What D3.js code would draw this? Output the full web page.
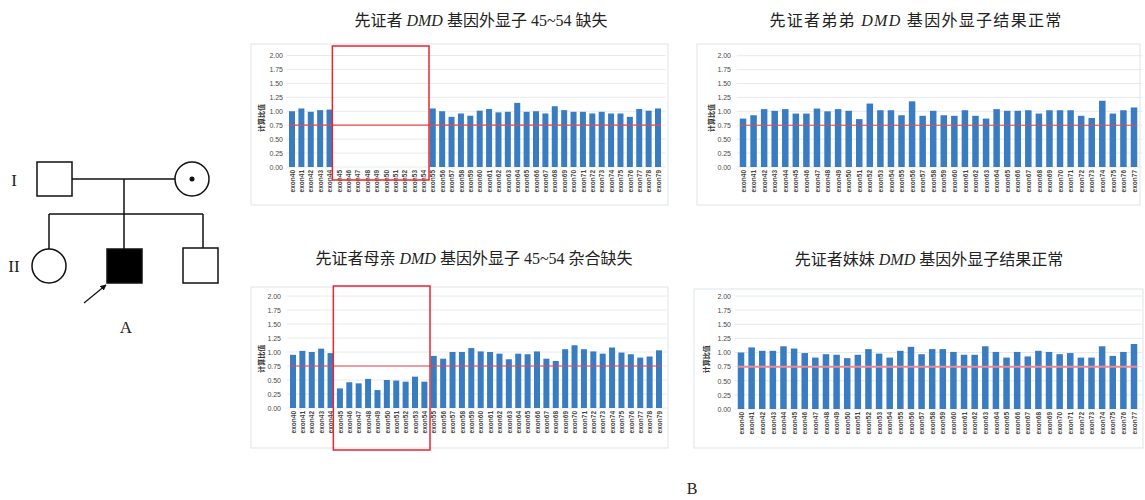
<!DOCTYPE html>
<html><head><meta charset="utf-8">
<script src="https://cdn.jsdelivr.net/npm/d3@7"></script>
<style>
body{margin:0;background:#fff;}
svg{display:block;}
</style></head>
<body><svg id="fig" width="1145" height="500"></svg>
<script>
// ---------- DATA ----------
const exonsLeft = ["exon40","exon41","exon42","exon43","exon44","exon45","exon46","exon47","exon48","exon49",
  "exon50","exon51","exon52","exon53","exon54","exon55","exon56","exon57","exon58","exon59",
  "exon60","exon61","exon62","exon63","exon64","exon65","exon66","exon67","exon68","exon69",
  "exon70","exon71","exon72","exon73","exon74","exon75","exon76","exon77","exon78","exon79"];
const exonsRight = ["exon40","exon41","exon42","exon43","exon44","exon45","exon46","exon47","exon48","exon49",
  "exon50","exon51","exon52","exon53","exon54","exon55","exon56","exon57","exon58","exon59",
  "exon60","exon61","exon62","exon63","exon64","exon65","exon66","exon67","exon68","exon69",
  "exon70","exon71","exon72","exon73","exon74","exon75","exon76","exon77"];
const probandValues = [1.00,1.05,0.99,1.02,1.03, 0,0,0,0,0,0,0,0,0,0,
  1.05,1.00,0.90,0.96,0.92,1.01,1.04,0.98,0.99,1.15,0.99,1.00,0.96,1.09,1.02,0.99,0.99,0.96,0.99,0.96,0.96,0.90,1.04,1.01,1.05];
const motherValues = [0.95,1.02,1.00,1.06,0.98, 0.35,0.46,0.44,0.52,0.32,0.50,0.49,0.47,0.56,0.47,
  0.93,0.88,1.00,1.00,1.07,1.01,1.00,0.97,0.87,0.97,0.96,1.01,0.88,0.84,1.05,1.12,1.05,1.01,0.97,1.08,0.99,0.96,0.90,0.92,1.03];
const brotherValues = [0.87,0.93,1.04,1.01,1.04,0.96,0.96,1.05,1.00,1.04,1.01,0.86,1.14,1.02,1.02,0.93,1.18,
  0.92,1.01,0.93,0.92,1.02,0.92,0.87,1.04,1.01,1.01,1.02,0.96,1.02,1.02,1.02,0.92,0.88,1.19,0.96,1.02,1.07];
const sisterValues = [1.00,1.09,1.03,1.03,1.11,1.07,0.99,0.91,0.97,0.96,0.90,0.96,1.06,0.98,0.91,1.03,1.10,
  0.97,1.06,1.06,1.01,0.96,0.96,1.11,1.01,0.91,1.01,0.93,1.03,1.01,0.97,0.99,0.91,0.91,1.11,0.94,1.01,1.15];
const yTicks = [0,0.25,0.5,0.75,1.0,1.25,1.5,1.75,2.0];
const threshold = 0.75;
const yTitle = "计算比值";
const deletedRange = ["exon45","exon54"];

// ---------- DRAW ----------
const svg = d3.select("#fig");
const serif = "'Liberation Serif','Noto Sans CJK SC',serif";
const sans = "'Liberation Sans',Arial,sans-serif";

function title(x, y, pre, post, ls){
  const t = svg.append("text").attr("x",x).attr("y",y).attr("text-anchor","middle")
    .attr("font-family",serif).attr("font-size",16).attr("fill","#222")
    .attr("letter-spacing", ls || 0);
  t.append("tspan").text(pre+" ");
  t.append("tspan").attr("font-style","italic").text("DMD");
  t.append("tspan").text(" "+post);
}

function panel(cfg){
  const g = svg.append("g");
  g.append("rect").attr("x",cfg.box[0]).attr("y",cfg.box[1]).attr("width",cfg.box[2]-cfg.box[0]).attr("height",cfg.box[3]-cfg.box[1])
    .attr("fill","none").attr("stroke","#dfe5ea").attr("stroke-width",1);
  const x = d3.scalePoint().domain(cfg.labels).range([cfg.x0,cfg.x1]);
  const y = d3.scaleLinear().domain([0,2]).range([cfg.y0,cfg.y2]);
  const step = x.step();
  g.selectAll("line.grid").data(yTicks).join("line")
    .attr("x1",cfg.x0-step*0.6).attr("x2",cfg.x1+step*0.8)
    .attr("y1",d=>y(d)).attr("y2",d=>y(d)).attr("stroke","#e6eaee").attr("stroke-width",1);
  const ya = d3.axisLeft(y).tickValues(yTicks).tickFormat(d3.format(".2f")).tickSize(0).tickPadding(0);
  const yg = g.append("g").attr("transform",`translate(${cfg.tickX},0)`).call(ya);
  yg.select(".domain").remove();
  yg.selectAll("text").attr("font-family",sans).attr("font-size",7).attr("fill","#4a4a4a");
  g.append("text").attr("transform",`translate(${cfg.titleX},${y(0.88)}) rotate(-90)`)
    .attr("text-anchor","middle").attr("font-family","'Noto Sans CJK SC',sans-serif").attr("font-weight","bold")
    .attr("font-size",7).attr("fill","#333").text(yTitle);
  const bw = cfg.bw;
  g.selectAll("rect.bar").data(cfg.labels.map((l,i)=>({l,v:cfg.values[i]}))).join("rect")
    .attr("x",d=>x(d.l)-bw/2).attr("width",bw)
    .attr("y",d=>y(d.v)).attr("height",d=>y(0)-y(d.v))
    .attr("fill","#3a7cc2");
  const xa = d3.axisBottom(x).tickSize(0).tickPadding(0);
  const xg = g.append("g").attr("transform",`translate(0,${cfg.y0+3})`).call(xa);
  xg.select(".domain").remove();
  xg.selectAll("text").attr("transform","rotate(-90)").attr("text-anchor","end")
    .attr("x",0).attr("y",0).attr("dx",0).attr("dy","0.33em")
    .attr("font-family",sans).attr("font-weight","bold").attr("font-size",6.5).attr("fill","#444");
  g.append("line").attr("x1",cfg.x0-3).attr("x2",cfg.x1+3).attr("y1",y(threshold)).attr("y2",y(threshold))
    .attr("stroke",cfg.lineColor).attr("stroke-width",cfg.lineW);
  if (cfg.delBox){
    const l = x(deletedRange[0]) - step*0.7, r = x(deletedRange[1]) + step*0.6;
    g.append("rect").attr("x",l).attr("y",cfg.delBox[0]).attr("width",r-l).attr("height",cfg.delBox[1]-cfg.delBox[0])
      .attr("fill","none").attr("stroke","#e8262d").attr("stroke-width",1.5);
  }
}

title(481, 26, "先证者", "基因外显子 45~54 缺失");
title(916, 26, "先证者弟弟", "基因外显子结果正常", 1.3);
title(474, 264, "先证者母亲", "基因外显子 45~54 杂合缺失");
title(929, 265, "先证者妹妹", "基因外显子结果正常");

panel({labels:exonsLeft, values:probandValues, box:[251,44,668,205], x0:292, x1:658, y0:167, y2:55.5, tickX:283, titleX:264, bw:6, lineColor:"#e8474c", lineW:1.2, delBox:[46,180]});
panel({labels:exonsRight, values:brotherValues, box:[697,44,1140,205], x0:743, x1:1134, y0:167, y2:55.7, tickX:731, titleX:714, bw:6.5, lineColor:"#e8474c", lineW:1.2});
panel({labels:exonsLeft, values:motherValues, box:[251,287,668,448], x0:293, x1:659, y0:408, y2:296, tickX:281, titleX:264, bw:6, lineColor:"#e8474c", lineW:1.2, delBox:[286,450]});
panel({labels:exonsRight, values:sisterValues, box:[694,289,1143,448], x0:741, x1:1134, y0:409, y2:296, tickX:731, titleX:709, bw:6.5, lineColor:"#f08a8f", lineW:2});

// ---------- PEDIGREE ----------
const ped = svg.append("g").attr("stroke","#111").attr("stroke-width",1.5).attr("fill","none");
ped.append("rect").attr("x",37).attr("y",162).attr("width",35).attr("height",34).attr("fill","#fff");
ped.append("circle").attr("cx",192).attr("cy",179).attr("r",17).attr("fill","#fff");
ped.append("circle").attr("cx",192).attr("cy",179).attr("r",2.5).attr("fill","#111").attr("stroke","none");
ped.append("line").attr("x1",72).attr("x2",175).attr("y1",179).attr("y2",179);
ped.append("line").attr("x1",124).attr("x2",124).attr("y1",179).attr("y2",249);
ped.append("line").attr("x1",49).attr("x2",203).attr("y1",214).attr("y2",214);
ped.append("line").attr("x1",49).attr("x2",49).attr("y1",214).attr("y2",249);
ped.append("line").attr("x1",203).attr("x2",203).attr("y1",214).attr("y2",248);
ped.append("circle").attr("cx",49).attr("cy",266).attr("r",17).attr("fill","#fff");
ped.append("rect").attr("x",107).attr("y",249).attr("width",35).attr("height",34).attr("fill","#000");
ped.append("rect").attr("x",183).attr("y",248).attr("width",35).attr("height",35).attr("fill","#fff");
svg.append("defs").append("marker").attr("id","ah").attr("viewBox","0 0 10 10").attr("refX",9).attr("refY",5)
  .attr("markerWidth",6).attr("markerHeight",6).attr("markerUnits","userSpaceOnUse").attr("orient","auto")
  .append("path").attr("d","M0,0 L10,5 L0,10 z").attr("fill","#111");
ped.append("line").attr("x1",84).attr("y1",303).attr("x2",106).attr("y2",285).attr("stroke-width",1.2).attr("marker-end","url(#ah)");

const lab = (x,y,t,s)=>svg.append("text").attr("x",x).attr("y",y).attr("text-anchor","middle")
  .attr("font-family",serif).attr("font-size",s).attr("fill","#222").text(t);
lab(14,186,"I",17);
lab(14,272,"II",17);
lab(126,333,"A",17);
lab(692,494,"B",16);
</script></body></html>
